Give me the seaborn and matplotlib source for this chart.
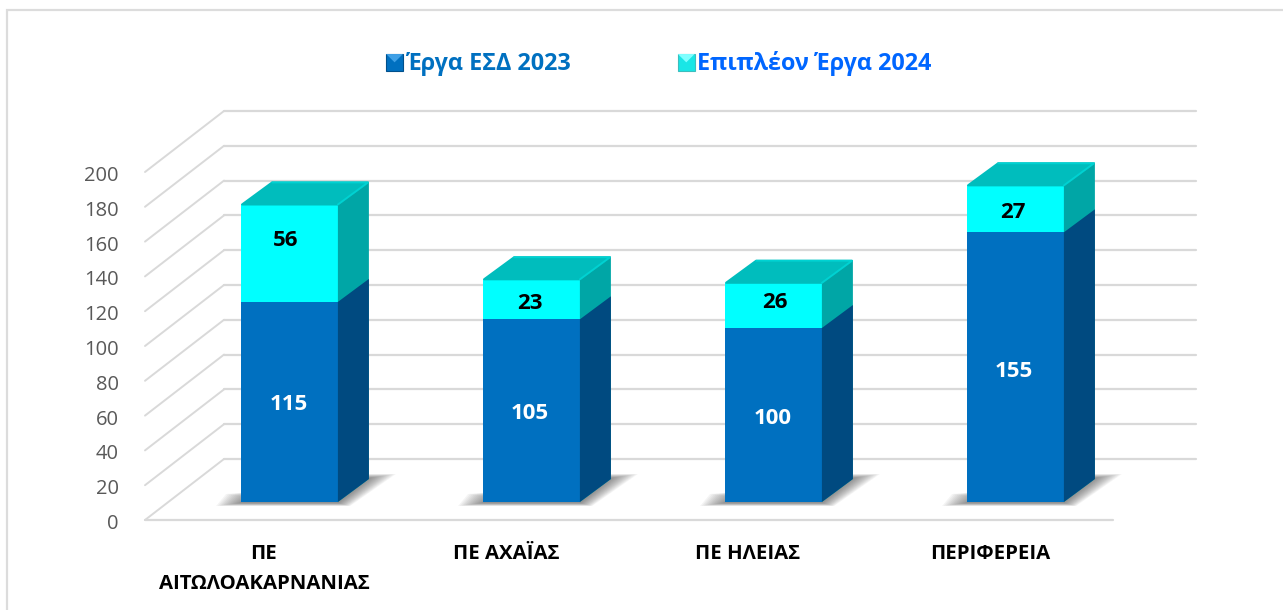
import numpy as np
import pandas as pd
import matplotlib
matplotlib.use("Agg")
import matplotlib.pyplot as plt
from matplotlib.patches import Patch, Polygon, Rectangle
from matplotlib.transforms import Affine2D
import seaborn as sns

# values
categories = ["ΠΕ\nΑΙΤΩΛΟΑΚΑΡΝΑΝΙΑΣ", "ΠΕ ΑΧΑΪΑΣ", "ΠΕ ΗΛΕΙΑΣ", "ΠΕΡΙΦΕΡΕΙΑ"]
erga_2023 = [115, 105, 100, 155]
epipleon_2024 = [56, 23, 26, 27]
y_ticks = list(range(0, 201, 20))
legend_labels = ["Έργα ΕΣΔ 2023", "Επιπλέον Έργα 2024"]

W, H = 1283, 610
FONT = "Open Sans"
BLUE, BLUE_SIDE = "#0070C0", "#004A80"
CYAN, CYAN_SIDE, CYAN_TOP = "#00FFFF", "#00A6A6", "#00BDBD"
GRID = "#D9D9D9"

sns.set_theme(style="white")
plt.rcParams["font.family"] = [FONT, "DejaVu Sans"]

fig = plt.figure(figsize=(W / 100, H / 100), dpi=100)
# axes = front plane of the 3d box, in pixels of the picture
ax = fig.add_axes([145 / W, 1 - 520 / H, (1113 - 145) / W, 348 / H])

df = pd.DataFrame({"cat": categories, "base": erga_2023, "extra": epipleon_2024})
df["total"] = df["base"] + df["extra"]

sns.barplot(data=df, x="cat", y="total", color=CYAN, saturation=1, width=0.4, ax=ax)
n_top = len(ax.patches)
sns.barplot(data=df, x="cat", y="base", color=BLUE, saturation=1, width=0.4, ax=ax)
ax.set_xlim(-0.5, 3.5)
ax.set_ylim(0, 200)


def shifted(dx, dy):
    # pixel shift on top of data coords
    return ax.transData + Affine2D().translate(dx, dy)


# walls: back lines and left side lines
back = (79, 61)
for v in y_ticks:
    ax.plot([-0.5, 3.5 + (1196 - 1113 - 79) / 242], [v, v], color=GRID, lw=1.6,
            transform=shifted(*back), clip_on=False, zorder=0.5)
    x0, y0 = ax.transData.transform((-0.5, v))
    ax.plot([x0, x0 + back[0]], [y0, y0 + back[1]], color=GRID, lw=1.4,
            transform=None, clip_on=False, zorder=0.5)
ax.plot([-0.5, 3.5], [0, 0], color=GRID, lw=1.6, clip_on=False, zorder=0.5)

# bars stand 18px behind the front plane
bar_shift = (23.5, 18)
depth = (31, 23)
bars = list(ax.patches)
for i, p in enumerate(bars):
    is_cyan = i < n_top
    p.set_transform(shifted(*bar_shift))
    p.set_clip_on(False)
    p.set_linewidth(0)
    p.set_zorder(3 if is_cyan else 3.2)
    x0, x1 = p.get_x(), p.get_x() + p.get_width()
    x0p, y0p = shifted(*bar_shift).transform((x0, 0))
    x1p, y1p = shifted(*bar_shift).transform((x1, p.get_height()))
    dx, dy = depth
    # side face
    ax.add_patch(Polygon([(x1p, y0p), (x1p + dx, y0p + dy), (x1p + dx, y1p + dy), (x1p, y1p)],
                         closed=True, fc=CYAN_SIDE if is_cyan else BLUE_SIDE, lw=0,
                         transform=None, clip_on=False, zorder=3 if is_cyan else 3.2))
    if is_cyan:
        # top face with soft corners and a lighter rim
        ax.add_patch(Polygon([(x0p + 1, y1p), (x1p, y1p), (x1p + dx - 1, y1p + dy - 1), (x0p + dx, y1p + dy - 1)],
                             closed=True, fc=CYAN_TOP, ec=CYAN_TOP, lw=1.5, joinstyle="round",
                             transform=None, clip_on=False, zorder=3))
        ax.plot([x1p, x1p + dx - 1, x0p + dx], [y1p, y1p + dy - 1, y1p + dy - 1], color="#00D2D2",
                lw=1.3, transform=None, clip_on=False, zorder=3.1, solid_joinstyle="round")
        # floor shadow, stacked faint layers for the blur
        for t in np.linspace(1, 0, 14):
            L, R, b = 24 * t + 1, 26 * t + 1, 1 + 3 * t
            ax.add_patch(Polygon([(x0p - L, y0p - b), (x1p + R * 0.45, y0p - b),
                                  (x1p + dx + R, y0p + dy + 4 * t + 1), (x1p + dx - 5, y0p + dy + 4 * t + 1),
                                  (x0p + 10, y0p + 8 + 2 * t), (x0p - L + 10, y0p + 4 + 4 * t)],
                                 closed=True, fc="#404040", alpha=0.055, lw=0, transform=None,
                                 clip_on=False, zorder=2))

# value labels, not quite centred in the source
base_nudge = [(-1, -3), (-2, -3), (-1, -4), (-2, -4)]
extra_nudge = [(-4, 13), (-2, -4), (1, 3), (-3, -4)]
for i in range(len(categories)):
    tr = shifted(bar_shift[0] + base_nudge[i][0], bar_shift[1] + base_nudge[i][1])
    ax.text(i, erga_2023[i] / 2, str(erga_2023[i]), color="white", fontsize=16,
            fontweight="bold", ha="center", va="center", transform=tr, zorder=5)
    tr = shifted(bar_shift[0] + extra_nudge[i][0], bar_shift[1] + extra_nudge[i][1])
    ax.text(i, erga_2023[i] + epipleon_2024[i] / 2, str(epipleon_2024[i]), color="black",
            fontsize=16, fontweight="bold", ha="center", va="center", transform=tr, zorder=5)

ax.set_xlabel("")
ax.set_ylabel("")
ax.set_yticks(y_ticks)
ax.tick_params(axis="y", labelsize=14.5, labelcolor="#595959", length=0, pad=19)
ax.tick_params(axis="x", labelsize=14.7, labelcolor="black", length=0, pad=17)
for lab in ax.get_xticklabels():
    lab.set_fontweight("bold")
    lab.set_linespacing(1.7)
    lab.set_transform(lab.get_transform() + Affine2D().translate(-2, 0))
for lab in ax.get_yticklabels():
    lab.set_transform(lab.get_transform() + Affine2D().translate(0, -1.5))
sns.despine(ax=ax, left=True, bottom=True, top=True, right=True)
ax.patch.set_alpha(0)

# chart border
fig.add_artist(Rectangle((6.5 / W, -0.02), 1.1, 1 - 10 / H + 0.02, fill=False, ec="#DCDCDC", lw=1.6,
                         transform=fig.transFigure))

# legend
handles = [Patch(fc=BLUE, ec="#00508C", lw=0.8), Patch(fc="#19E6E6", ec="#3CBEBE", lw=0.8)]
leg = fig.legend(handles, legend_labels, loc="center", bbox_to_anchor=(659 / W, 1 - 64 / H),
                 ncol=2, frameon=False, handlelength=0.72, handleheight=0.72,
                 handletextpad=0.12, columnspacing=4.6,
                 prop={"family": FONT, "weight": "bold", "size": 16.8})
for t, c in zip(leg.get_texts(), ["#0070C0", "#0066FF"]):
    t.set_color(c)

# lighter triangle on the legend keys
fig.canvas.draw()
for h, c in zip(leg.legend_handles, ["#3FA0E6", "#7FFFFF"]):
    e = h.get_window_extent()
    fig.add_artist(Polygon([(e.x0, e.y1), (e.x1, e.y1), ((e.x0 + e.x1) / 2, (e.y0 + e.y1) / 2)],
                           closed=True, fc=c, lw=0, transform=None, zorder=10))

fig.savefig("out.png", dpi=100)
